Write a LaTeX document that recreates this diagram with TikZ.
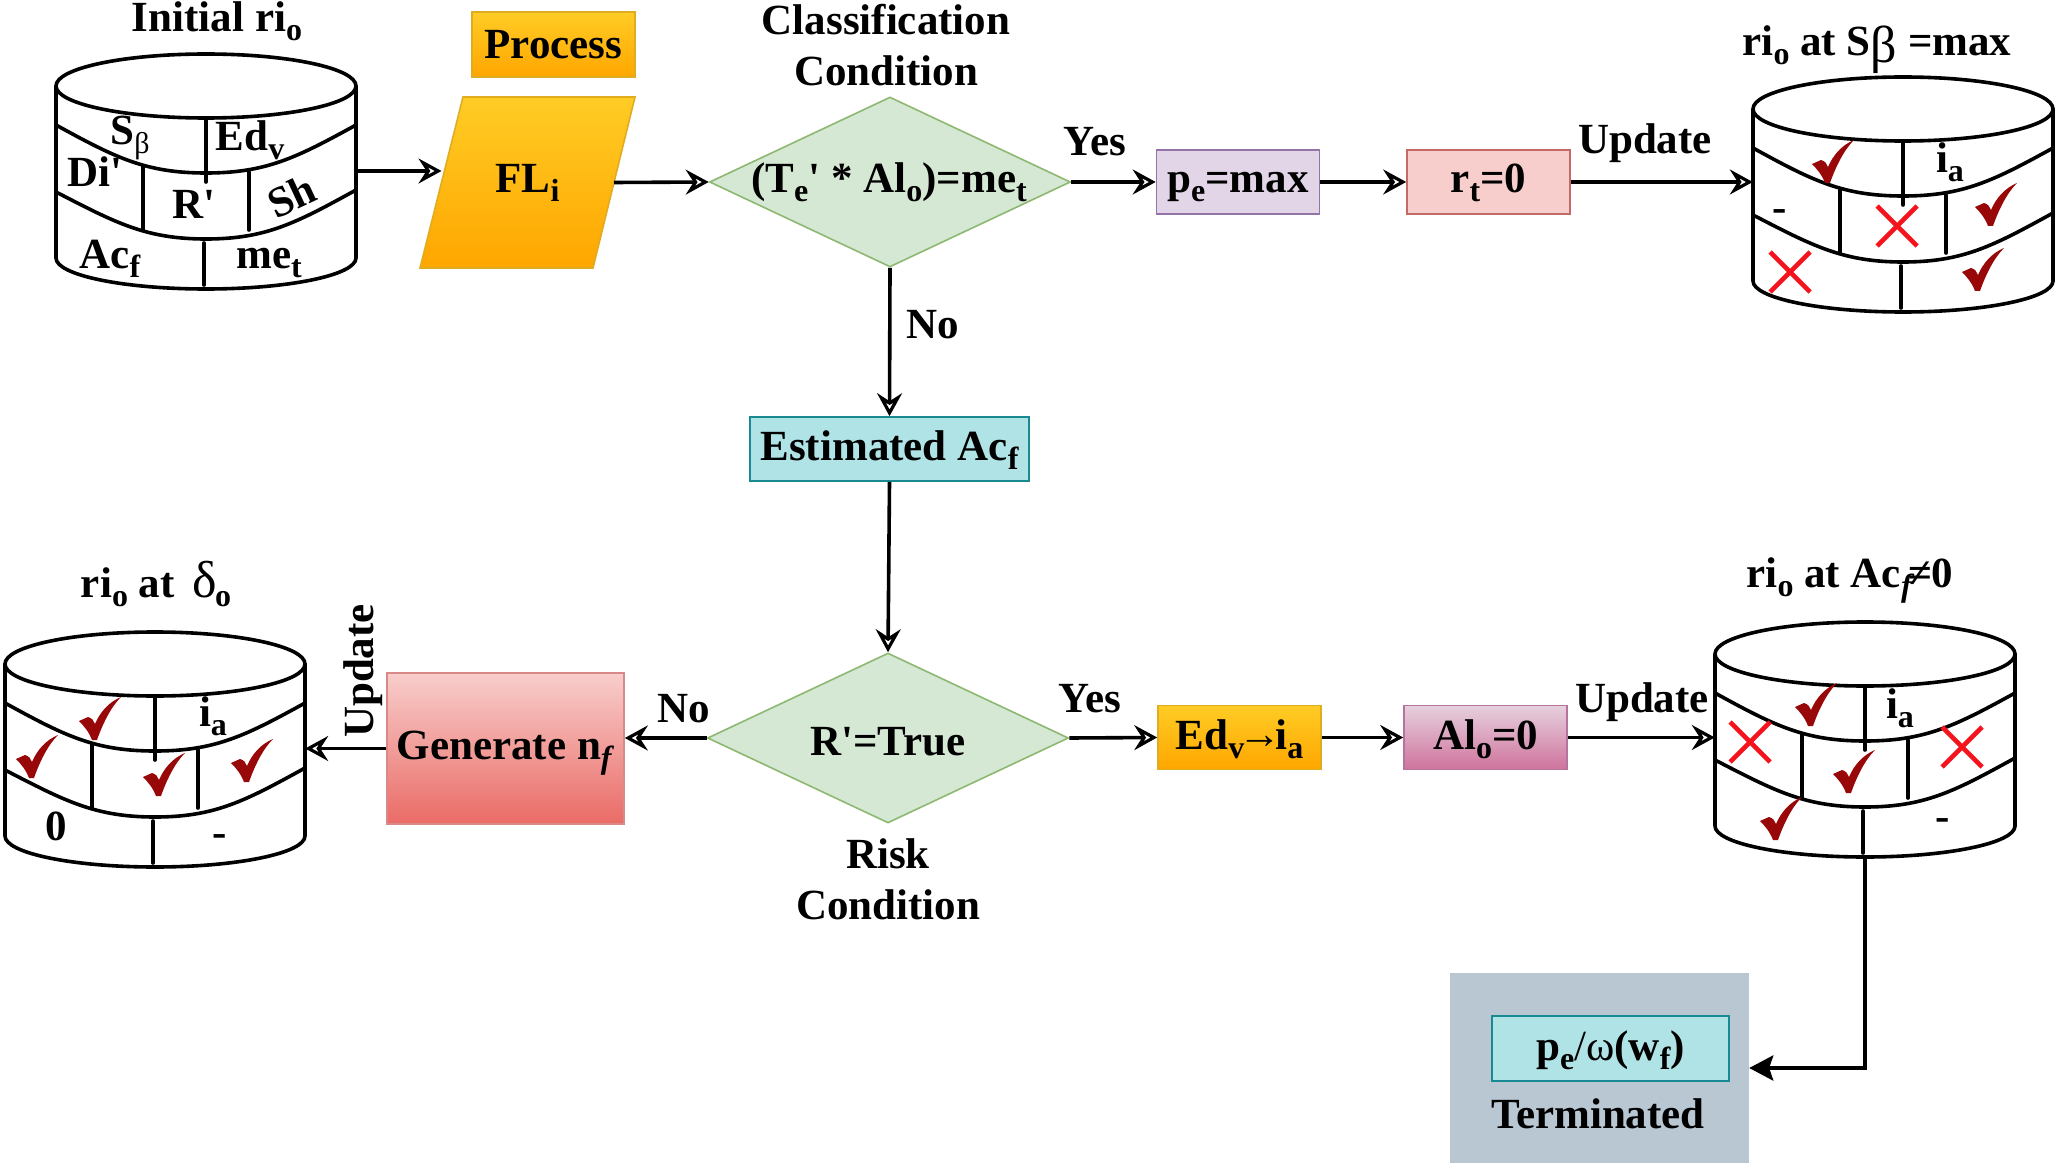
\documentclass[tikz,border=0pt]{standalone}
\usepackage{fontspec}
\defaultfontfeatures[\rmfamily]{}
\setmainfont{Liberation Serif}
\usetikzlibrary{shapes.geometric,arrows.meta,calc}
\definecolor{chkred}{HTML}{990808}
\definecolor{xred}{HTML}{F5141E}
\definecolor{yeltop}{HTML}{FFCC25}
\definecolor{yelbot}{HTML}{FFA600}
\definecolor{yeldraw}{HTML}{E0AC20}
\definecolor{grndraw}{HTML}{8DB871}
\definecolor{grnfill}{HTML}{D5E8D4}
\definecolor{purdraw}{HTML}{9673A6}
\definecolor{purfill}{HTML}{E1D5E7}
\definecolor{pnkdraw}{HTML}{C46A66}
\definecolor{pnkfill}{HTML}{F8CECC}
\definecolor{teadraw}{HTML}{1A8A92}
\definecolor{teafill}{HTML}{B0E3E6}
\definecolor{magdraw}{HTML}{B5739D}
\definecolor{magtop}{HTML}{E6D0DE}
\definecolor{magbot}{HTML}{CF739C}
\definecolor{gendraw}{HTML}{D98A88}
\definecolor{genbot}{HTML}{EA6B66}
\definecolor{trmfill}{HTML}{B9C7D3}
\newcommand{\sbs}[1]{\raisebox{-9pt}{\fontsize{32}{32}\selectfont #1}}
\newcommand{\thn}[1]{{\mdseries #1}}
\tikzset{
  every node/.style={font=\fontsize{43}{48}\selectfont\bfseries,inner sep=0pt,text height=32pt,text depth=4pt},
  cylline/.style={line width=3.6pt,line cap=round,line join=round},
  flow/.style={line width=3.6pt,-{Stealth[length=23pt,width=25pt,inset=8pt,fill=white,line width=3.2pt]}},
  endflow/.style={line width=3.6pt,line join=miter,-{Stealth[length=24pt,width=25pt,inset=4pt]}},
  dbframe/.style={minimum width=300pt,minimum height=236pt,draw=none},
  boxA/.style={draw,line width=1.6pt,minimum width=163pt,minimum height=64pt},
  yellowfill/.style={top color=yeltop,bottom color=yelbot,draw=yeldraw},
  diam/.style={diamond,aspect=2.12,draw=grndraw,fill=grnfill,line width=1.6pt,minimum width=361pt,minimum height=170pt},
}
\newcommand{\cyl}[3]{%
  \node[dbframe] (#1) at ($(#2,#3)+(150,118)$) {};
  \begin{scope}[shift={(#2,#3)}]
    \draw[cylline] (150,33) ellipse [x radius=150pt,y radius=32pt];
    \draw[cylline] (0,33) -- (0,205) .. controls (0,222) and (67,236) .. (150,236) .. controls (233,236) and (300,222) .. (300,205) -- (300,33);
    \draw[cylline] (0,72) .. controls (60,105) and (90,120) .. (150,120) .. controls (210,120) and (240,105) .. (300,72);
    \draw[cylline] (0,139) .. controls (60,170) and (90,186) .. (150,186) .. controls (210,186) and (240,170) .. (300,137);
    \draw[cylline] (150,65) -- (150,129);
    \draw[cylline] (87,113) -- (87,177);
    \draw[cylline] (193,119) -- (193,177);
    \draw[cylline] (148,190) -- (148,232);
}
\newcommand{\chk}[2]{\fill[chkred,shift={(#1,#2)}] (0,24) -- (9,20) .. controls (13,21) and (15,24) .. (16,27) .. controls (21,15) and (30,5) .. (42,0) .. controls (32,10) and (24,26) .. (18,43) -- (13,43) .. controls (10,35) and (5,29) .. (0,24) -- cycle;}
\newcommand{\crs}[2]{\draw[xred,line width=4.6pt,shift={(#1,#2)}] (-20,-20) -- (20,20) (-20,20) -- (20,-20);}
\begin{document}
\begin{tikzpicture}[x=1pt,y=-1pt]
\useasboundingbox[fill=white] (0,0) rectangle (2056,1166);

% cylinder 1
\cyl{dba}{56}{53}
  \node (a1) at (74,78) {S\raisebox{-9pt}{\thn{\fontsize{30}{30}\selectfont β}}};
  \node (a2) at (194,84) {Ed\sbs{v}};
  \node (a3) at (39,120) {Di'};
  \node (a4) at (138,152) {R'};
  \node[rotate=25] (a5) at (236,144) {Sh};
  \node (a6) at (54,202) {Ac\sbs{f}};
  \node (a7) at (213,202) {me\sbs{t}};
\end{scope}
\node (ta) at (217,18) {Initial ri\sbs{o}};

% cylinder 2
\cyl{dbb}{1753}{76}
  \chk{59}{64}\chk{222}{107}\chk{209}{172}
  \crs{144}{150}\crs{37}{196}
  \node (b1) at (197,83) {i\sbs{a}};
  \node (b2) at (27,132) {-};
\end{scope}
\node (tb) at (1877,42) {ri\sbs{o} at S\raisebox{-7pt}{\thn{\fontsize{52}{52}\selectfont β}} =max};

% cylinder 3
\cyl{dbc}{5}{631}
  \chk{74}{66}\chk{11}{104}\chk{138}{122}\chk{226}{108}
  \node (c1) at (208,81) {i\sbs{a}};
  \node (c2) at (51,195) {0};
  \node (c3) at (215,201) {-};
\end{scope}
\node (tc) at (156,583) {ri\sbs{o} at\, \thn{\fontsize{52}{52}\selectfont δ}\kern-2pt\sbs{o}};

% cylinder 4
\cyl{dbd}{1715}{621}
  \chk{80}{62}\chk{118}{129}\chk{45}{176}
  \crs{35}{121}\crs{247}{126}
  \node (d1) at (185,83) {i\sbs{a}};
  \node (d2) at (228,195) {-};
\end{scope}
\node (td) at (1850,573) {ri\sbs{o} at Ac\raisebox{-9pt}{\fontsize{32}{32}\selectfont\textit{f}}\kern-6pt≠0};

% process
\node[yellowfill,line width=1.6pt,minimum width=163pt,minimum height=65pt] (proc) at (553.5,44.5) {Process};
\shade[top color=yeltop,bottom color=yelbot,draw=yeldraw,line width=1.6pt] (463,97) -- (635,97) -- (593,268) -- (420,268) -- cycle;
\node (fl) at (527.5,179) {FL\sbs{i}};
\coordinate (flw) at (441.5,182.5);
\coordinate (fle) at (614,182.5);

% top row
\node[diam] (dtop) at (890,182) {};
\node (dtopt) at (889,179) {(T\sbs{e}' * Al\sbs{o})=me\sbs{t}};
\node (cl1) at (886,21) {Classification};
\node (cl2) at (886,72) {Condition};
\node[boxA,draw=purdraw,fill=purfill] (pe) at (1238,182) {};
\node (pet) at (1238,179) {p\sbs{e}=max};
\node[boxA,draw=pnkdraw,fill=pnkfill] (rt) at (1488.5,182) {};
\node (rtt) at (1488.5,179) {r\sbs{t}=0};
\node (yes1) at (1095,142) {Yes};
\node (up1) at (1645,140) {Update};
\node (no1) at (933,324) {No};

% middle
\node[boxA,draw=teadraw,fill=teafill,minimum width=279pt] (est) at (889.5,449) {};
\node (estt) at (889.5,446) {Estimated Ac\sbs{f}};

% bottom row
\node[diam] (dbot) at (888,738) {};
\node (dbott) at (888,741) {R'=True};
\node (rk1) at (888,854) {Risk};
\node (rk2) at (888,905) {Condition};
\node[boxA,yellowfill] (ed) at (1239.5,737.5) {};
\node (edt) at (1239.5,735) {Ed\sbs{v}\kern-6pt\raisebox{1pt}{→}\kern-6pt i\sbs{a}};
\node[boxA,draw=magdraw,top color=magtop,bottom color=magbot] (al) at (1485.5,737.5) {};
\node (alt) at (1485.5,735) {Al\sbs{o}=0};
\node[boxA,draw=gendraw,top color=pnkfill,bottom color=genbot,minimum width=237pt,minimum height=151pt] (gen) at (505.5,748.5) {};
\node (gent) at (505.5,745) {Generate n\raisebox{-9pt}{\fontsize{32}{32}\selectfont\textit{f}}};
\node (yes2) at (1090,698) {Yes};
\node (no2) at (684,708) {No};
\node (up2) at (1642,698) {Update};
\node[rotate=90] (up3) at (359,671) {Update};

% terminated
\node[fill=trmfill,minimum width=299pt,minimum height=190pt] (term) at (1599.5,1068) {};
\node[draw=teadraw,fill=teafill,line width=2.4pt,minimum width=237pt,minimum height=65pt] (pw) at (1610.5,1048.5) {};
\node (pwt) at (1610.5,1046) {p\sbs{e}\thn{/ω}(w\sbs{f})};
\node (tx) at (1598,1114) {Terminated};

% connectors
\draw[flow] (dba.east) -- (dba.east -| flw);
\draw[flow] (fle) -- (dtop.west);
\draw[flow] (dtop.east) -- (pe.west);
\draw[flow] (pe.east) -- (rt.west);
\draw[flow] (rt.east) -- (rt.east -| dbb.west);
\draw[flow] (dtop.south) -- (est.north);
\draw[flow] (est.south) -- (dbot.north);
\draw[flow] (dbot.west) -- (dbot.west -| gen.east);
\draw[flow] (gen.west) -- (gen.west -| dbc.east);
\draw[flow] (dbot.east) -- (ed.west);
\draw[flow] (ed.east) -- (al.west);
\draw[flow] (al.east) -- (al.east -| dbd.west);
\draw[endflow] (dbd.south) |- (term.east);
\end{tikzpicture}
\end{document}
